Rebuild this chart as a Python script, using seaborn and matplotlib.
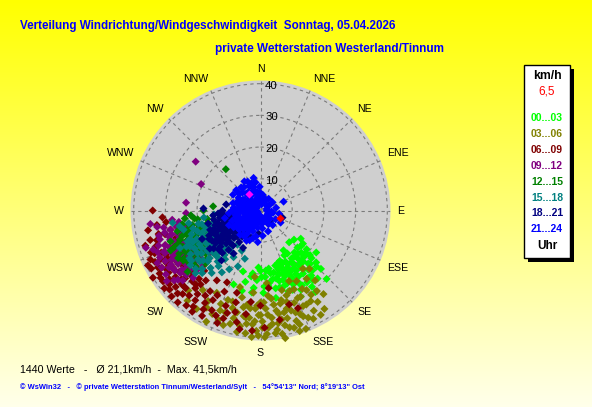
import numpy as np
import pandas as pd
import matplotlib
matplotlib.use("Agg")
import matplotlib.pyplot as plt
import seaborn as sns
from matplotlib.patches import Rectangle

# ---------------- data (direction in compass degrees, speed in km/h) ----------------
time_groups = ["00...03", "03...06", "06...09", "09...12", "12...15", "15...18", "18...21", "21...24"]
group_colors = ["#00ff00", "#808000", "#800000", "#800080", "#008000", "#008080", "#000080", "#0000ff"]

pts_00_03 = [(125, 15.5), (128, 17), (130, 19), (132, 21), (133, 24), (134, 26.5), (135, 16.5), (136, 18.5),
             (137, 20), (138, 22.5), (139, 25), (140, 28), (141, 17), (142, 19.5), (143, 21), (144, 23),
             (145, 26), (146, 29), (147, 18), (148, 20), (149, 22), (150, 24), (151, 27), (152, 16),
             (153, 19), (154, 21.5), (155, 23.5), (156, 25.5), (157, 18), (158, 20.5), (159, 22), (160, 24.5),
             (161, 27), (162, 17.5), (163, 19.5), (164, 21), (165, 23), (166, 25), (168, 20), (170, 22),
             (172, 18.5), (174, 24), (176, 21), (178, 26), (180, 19), (182, 18), (185, 24.5), (188, 21),
             (192, 23), (196, 20), (200, 24.8), (138, 13.5), (131, 14), (150, 14.5), (146, 31), (136, 30),
             (127, 22), (155, 30), (170, 28), (143, 27.5), (133, 19.5), (193, 26), (187, 20),
             (131, 17), (133, 22), (135, 25), (136, 20), (137, 23), (139, 18), (140, 21), (141, 24),
             (142, 26), (144, 18), (145, 21), (146, 24), (147, 27), (148, 16), (149, 19), (150, 21),
             (151, 23), (152, 26), (153, 28), (154, 18), (155, 20), (156, 22), (157, 24), (158, 27),
             (159, 17), (160, 19), (161, 21), (162, 23), (163, 25), (165, 18), (167, 22), (169, 25),
             (171, 20), (173, 23), (175, 19), (177, 24), (179, 21), (183, 22), (186, 26)]

pts_03_06 = [(140, 24), (142, 28), (144, 22.7), (145, 31), (146, 26), (148, 34), (150, 29), (151, 32.7),
             (152, 35.8), (153, 25), (154, 38), (155, 30), (156, 33), (157, 27), (158, 36), (159, 40),
             (160, 31), (161, 34), (162, 36.6), (163, 28), (164, 38.5), (165, 32), (166, 35), (167, 29),
             (168, 37), (169, 41), (170, 33), (171, 36), (172, 30), (173, 39), (174, 34), (175, 27),
             (176, 37), (177, 31), (178, 40), (179, 35), (180, 29), (181, 33), (182, 38), (183, 31),
             (184, 36), (185, 26), (186, 34), (187, 39), (188, 30), (189, 33.7), (190, 37), (192, 28),
             (194, 35), (196, 32), (198, 38), (200, 30), (202, 34), (205, 36), (208, 29.4), (210, 33),
             (213, 37), (216, 31), (219, 36.6), (222, 34), (150, 38), (158, 24), (165, 26), (147, 37),
             (143, 33), (175, 23), (185, 21), (195, 25), (170, 39.5), (162, 40),
             (149, 31), (152, 28), (154, 33), (156, 37), (157, 30), (159, 35), (160, 27), (161, 38),
             (163, 33), (164, 30), (166, 38), (167, 33), (168, 30), (169, 35), (171, 32), (172, 38),
             (173, 28), (174, 36), (176, 33), (177, 39), (178, 29), (179, 37), (180, 33), (181, 39.5),
             (182, 30), (183, 35), (184, 40), (186, 31), (187, 36), (188, 34), (190, 31), (191, 39),
             (193, 33), (195, 37), (197, 30), (199, 34), (201, 37), (203, 32), (206, 39), (209, 35)]

pts_06_09 = [(159, 33), (163, 31), (170, 35), (174, 24.6), (178, 37), (184, 38), (188, 33), (192, 36),
             (195, 30), (198, 34), (201, 38), (204, 28), (206, 35), (208, 32), (210, 36), (212, 30),
             (214, 38.5), (215, 37), (217, 33), (218, 28), (220, 35), (221, 31), (222, 39), (223, 26),
             (224, 34), (225, 37), (226, 30), (227, 34), (228, 32), (229, 38), (230, 27), (231, 35),
             (232, 31), (233, 36), (234, 29), (235, 33), (236, 38), (237, 30), (238, 35), (239, 27),
             (240, 33.5), (241, 37), (242, 31), (243, 29), (244, 35), (245, 33), (246, 38), (247, 30),
             (248, 36), (250, 32), (252, 28), (254, 34), (256, 31), (258, 29), (260, 36), (263, 30),
             (266, 31), (270, 34), (253, 38), (244, 39.5), (219, 30), (226, 25), (233, 25), (212, 26),
             (205, 25), (196, 27), (186, 29), (231, 39), (238, 40), (180, 30),
             (200, 32), (203, 36), (207, 30), (209, 38), (211, 34), (213, 32), (216, 35), (218, 38),
             (220, 32), (222, 29), (223, 36), (224, 31), (225, 34), (226, 39), (227, 29), (228, 36),
             (229, 33), (230, 31), (231, 37), (232, 34), (233, 32), (234, 38), (235, 30), (236, 35),
             (237, 33), (238, 37.5), (239, 31), (240, 36), (241, 34), (242, 39), (243, 33), (244, 37),
             (245, 31), (247, 34), (249, 37), (251, 35), (255, 36), (257, 33), (262, 33), (190, 38),
             (194, 33), (199, 36)]

pts_09_12 = [(225, 30), (227, 27), (228, 33), (229, 24), (230, 29), (231, 35), (232, 26), (233, 31),
             (234, 22), (235, 28), (236, 33), (237, 25), (238, 30), (239, 27), (240, 23), (241, 32),
             (242, 28), (243, 25), (244, 30), (245, 35), (246, 26), (247, 22), (248, 35), (249, 29),
             (250, 32), (251, 27), (252, 38), (253, 24), (254, 30), (255, 27), (256, 33), (258, 29),
             (260, 31), (262, 26), (264, 28), (233, 37), (240, 36), (236, 20), (243, 19), (250, 21),
             (257, 24), (230, 21), (238, 34), (245, 31), (232, 29.5), (239, 24), (247, 28.5), (307, 25.6),
             (294, 20.5), (276, 23.6), (268, 23.5), (263, 35), (255, 20),
             (228, 25), (229, 31), (230, 34), (231, 27), (232, 32), (233, 24), (234, 29), (235, 33),
             (236, 26), (237, 31), (238, 27), (239, 33), (240, 29), (241, 25), (242, 34), (243, 31),
             (244, 27), (245, 29), (246, 33), (247, 25), (248, 31), (249, 27), (250, 29), (251, 34),
             (252, 30), (253, 27), (254, 33), (255, 29), (256, 26), (257, 31), (259, 27), (261, 33),
             (236, 36), (243, 36.5), (250, 36), (231, 30), (240, 31), (247, 33)]

pts_12_15 = [(226, 24), (228, 20), (229, 27), (231, 17), (232, 22), (233, 25), (234, 19), (235, 28),
             (236, 16), (237, 21), (238, 24), (239, 18), (240, 26), (241, 20), (242, 23), (243, 17),
             (244, 21.6), (245, 25), (246, 19), (247, 22), (248, 28), (249, 20), (250, 24), (251, 17),
             (252, 26), (253, 21), (254, 23), (255, 19), (256, 27), (258, 22), (260, 25), (262, 20),
             (264, 24), (266, 22), (270, 18), (240, 30), (235, 14), (244, 13), (252, 15), (230, 30),
             (247, 29.5), (238, 28.5), (243, 27), (236, 23), (241, 16), (320, 17), (275, 15), (257, 17),
             (234, 23),
             (228, 23), (230, 19), (231, 25), (232, 27), (233, 21), (234, 17), (235, 24), (236, 19),
             (237, 26), (238, 21), (239, 23), (240, 19), (241, 27), (242, 21), (243, 24), (244, 19),
             (245, 27), (246, 23), (247, 18), (248, 25), (249, 22), (250, 27), (251, 21), (252, 19),
             (253, 25), (254, 20), (255, 24), (257, 20), (259, 23), (261, 17), (263, 21), (237, 29),
             (242, 29), (233, 28), (246, 31), (251, 30)]

pts_15_18 = [(198, 16), (202, 19), (205, 14), (208, 21), (210, 17), (212, 23), (214, 13), (216, 19),
             (218, 25), (219, 15), (220, 21), (222, 17), (223, 27), (224, 12), (225, 19), (226, 23),
             (227, 15), (228, 20), (229, 18), (230, 25), (231, 13), (232, 21), (233, 16), (234, 23),
             (235, 19), (236, 27), (237, 14), (238, 22), (239, 17), (240, 24), (241, 11), (242, 20),
             (243, 15), (244, 26), (245, 18), (246, 22), (247, 13), (248, 24), (250, 19), (252, 21),
             (254, 16), (256, 25), (258, 20), (260, 23), (262, 28), (265, 14.7), (263, 18), (232, 28),
             (226, 28.5), (217, 10), (236, 10), (251, 12), (245, 28),
             (215, 16), (217, 22), (219, 18), (221, 24), (223, 20), (224, 16), (225, 26), (226, 18),
             (227, 22), (228, 16), (229, 24), (230, 20), (231, 17), (232, 25), (233, 19), (234, 21),
             (235, 15), (236, 24), (237, 18), (238, 26), (239, 20), (240, 15), (241, 22), (242, 18),
             (243, 25), (244, 20), (246, 17), (247, 25), (248, 20), (249, 15), (251, 23), (253, 18),
             (255, 22), (257, 19), (259, 26), (228, 27.5), (234, 27), (221, 14), (240, 19), (245, 23.5)]

pts_18_21 = [(200, 9), (205, 13), (210, 6), (212, 16), (215, 10), (218, 14), (220, 8), (222, 18),
             (224, 12), (225, 6), (226, 15), (227, 10), (228, 17), (229, 8), (230, 13), (231, 19),
             (232, 11), (233, 15), (234, 7), (235, 12), (236, 17), (237, 9), (238, 14), (239, 11),
             (240, 16), (241, 6), (242, 13), (243, 10), (244, 18), (245, 8), (246, 14), (247, 11),
             (248, 16), (249, 5), (250, 12), (251, 9), (252, 15), (254, 11), (256, 17), (258, 8),
             (260, 13), (262, 10), (264, 15), (266, 13.4), (268, 9), (270, 12), (272, 18), (275, 7),
             (280, 11), (108, 7.3), (135, 4.5), (185, 7.3), (341, 7.7), (290, 6), (310, 5), (233, 20),
             (244, 20.5), (238, 4), (226, 3.5), (218, 20),
             (214, 12), (216, 8), (219, 16), (221, 10), (223, 14), (226, 12), (228, 9), (229, 14),
             (231, 16), (232, 7), (233, 10), (234, 13), (235, 16), (236, 9), (237, 12), (238, 18),
             (239, 8), (240, 13), (241, 10), (242, 16), (243, 7), (244, 12), (245, 15), (246, 9),
             (247, 13), (248, 11), (249, 17), (250, 7), (251, 14), (252, 11), (253, 9), (254, 14),
             (255, 12), (257, 10), (259, 15), (261, 11), (263, 8), (265, 12), (227, 18), (222, 11),
             (230, 10), (236, 14.5), (241, 18.5), (246, 16.5), (251, 12.5), (248, 8.5), (243, 13.5),
             (225, 9.5), (234, 17.5)]

pts_21_24 = [(331, 10.5), (343, 7.6), (350, 9), (0, 5.5), (20, 4), (56, 4.6), (69, 7.8),
             (80, 5), (95, 3.5), (100, 6), (121, 7.4), (130, 4), (150, 5), (174, 5.7), (190, 8.3),
             (200, 4.5), (210, 7), (220, 3), (230, 9), (240, 6), (250, 3.5), (255, 8), (260, 5),
             (265, 10), (270, 4), (275, 7), (280, 2.5), (285, 9), (290, 5.5), (295, 3), (300, 8),
             (305, 6), (310, 10), (315, 4), (320, 7), (325, 2), (330, 5.5), (335, 8.5), (340, 3.5),
             (345, 6), (352, 4.5), (355, 2.5), (5, 3), (40, 2.5),
             (60, 3), (75, 2), (110, 2.5), (140, 2.5), (160, 3), (180, 2), (200, 2), (225, 6),
             (235, 4), (245, 11), (258, 11.5), (268, 1.5), (285, 6.5), (300, 1.5), (310, 3), (320, 9.5),
             (348, 10.5), (200, 10), (215, 9.5), (240, 9), (250, 9.5), (260, 8), (270, 9),
             (230, 6), (235, 8), (215, 7), (205, 6), (195, 9), (185, 10), (245, 6.5), (255, 5),
             (265, 6.5), (275, 5.5), (285, 4), (295, 7), (205, 10.5), (220, 10),
             (180, 4), (190, 5.5), (200, 7), (210, 8.5), (215, 3.5), (220, 5), (225, 7.5), (228, 9),
             (232, 2.5), (236, 4.5), (240, 7.5), (244, 3), (248, 5), (252, 7), (256, 2), (262, 3.5),
             (266, 7.5), (272, 2), (278, 3.5), (282, 6), (288, 8), (292, 2), (298, 4.5), (302, 6.5),
             (308, 8.5), (312, 1.5), (318, 5), (322, 6), (328, 7), (332, 3.5), (338, 6.5), (342, 9),
             (350, 6), (358, 7.5), (8, 5), (25, 3), (35, 4.5),
             (90, 2), (120, 3), (150, 3.5), (170, 4), (195, 3), (205, 5), (212, 9.5), (222, 8),
             (238, 10), (242, 1), (190, 1.5), (160, 7), (175, 8), (140, 6), (228, 4), (252, 4),
             (276, 8.5), (300, 10), (315, 8), (325, 9), (336, 10), (345, 4), (10, 2), (120, 5.5),
             (100, 4), (232, 7.5), (248, 8), (218, 6.5), (208, 3)]

group_points = [pts_00_03, pts_03_06, pts_06_09, pts_09_12, pts_12_15, pts_15_18, pts_18_21, pts_21_24]

current_dir, current_speed = 112, 6.5          # latest value (red)
highlight_dir, highlight_speed = 325, 6.2      # magenta mark

direction_labels = ["N", "NNE", "NE", "ENE", "E", "ESE", "SE", "SSE",
                    "S", "SSW", "SW", "WSW", "W", "WNW", "NW", "NNW"]
ring_values = [10, 20, 30, 40]

title_text = "Verteilung Windrichtung/Windgeschwindigkeit  Sonntag, 05.04.2026"
subtitle_text = "private Wetterstation Westerland/Tinnum"
stats_text = "1440 Werte   -   \u00d8 21,1km/h  -  Max. 41,5km/h"
footer_text = "\u00a9 WsWin32   -   \u00a9 private Wetterstation Tinnum/Westerland/Sylt   -   54\u00b054'13\" Nord; 8\u00b019'13\" Ost"

# ---------------- figure ----------------
W, H = 592, 407
plt.rcParams["font.family"] = ["Liberation Sans", "DejaVu Sans"]
fig = plt.figure(figsize=(W / 100, H / 100), dpi=100)

# background gradient
bg = fig.add_axes([0, 0, 1, 1], zorder=-10)
grad = np.linspace(0.0, 0.92, 256).reshape(-1, 1)
img = np.zeros((256, 1, 3))
img[..., 0] = 1.0
img[..., 1] = 1.0
img[..., 2] = grad
bg.imshow(img, aspect="auto", extent=[0, 1, 0, 1], origin="upper")
bg.set_axis_off()

# polar axes
cx, cy, R = 260.5, 210.5, 130
ax = fig.add_axes([(cx - R) / W, (H - cy - R) / H, 2 * R / W, 2 * R / H], projection="polar")
ax.set_theta_zero_location("N")
ax.set_theta_direction(-1)
ax.set_facecolor("#cfcfcf")
rmax = 41.0
ax.set_ylim(0, rmax)
ax.set_yticks(ring_values)
ax.set_yticklabels([])
ax.set_xticks(np.deg2rad(np.arange(0, 360, 22.5)))
ax.set_xticklabels([])
ax.grid(True, color="#7a7a7a", linestyle=(0, (3, 3)), linewidth=0.8)
ax.spines["polar"].set_visible(False)
ax.tick_params(length=0)

rows = []
for grp, pts in zip(time_groups, group_points):
    for d, s in pts:
        rows.append({"theta": np.deg2rad(d), "speed": s, "group": grp})
df = pd.DataFrame(rows)
palette = dict(zip(time_groups, group_colors))
sns.scatterplot(data=df, x="theta", y="speed", hue="group", palette=palette, marker="D",
                s=17, linewidth=0, legend=False, ax=ax, clip_on=False, zorder=3)
ax.scatter([np.deg2rad(highlight_dir)], [highlight_speed], marker="D", s=17, color="#ff00ff", linewidth=0, zorder=4)
ax.scatter([np.deg2rad(current_dir)], [current_speed], marker="D", s=17, color="#ff0000", linewidth=0, zorder=4)
ax.set_xlabel("")
ax.set_ylabel("")

# ring labels
for rv in ring_values:
    ax.annotate(str(rv), xy=(0, rv), xytext=(11, -2), textcoords="offset pixels",
                ha="center", va="center", fontsize=8.2, color="black", zorder=5)

# direction labels
r_lab = 137 / (R / rmax)
for i, lab in enumerate(direction_labels):
    ang = np.deg2rad(i * 22.5)
    sx, cz = np.sin(ang), np.cos(ang)
    ha = "left" if sx > 0.01 else ("right" if sx < -0.01 else "center")
    va = "bottom" if cz > 0.01 else ("top" if cz < -0.01 else "center")
    ax.text(ang, r_lab, lab, ha=ha, va=va, fontsize=7.6, color="black", clip_on=False)

# ---------------- texts ----------------
renderer = fig.canvas.get_renderer()


def place(x, y, s, target_w=None, **kw):
    t = fig.text(x / W, 1 - y / H, s, **kw)
    if target_w:
        w = t.get_window_extent(renderer).width
        t.set_fontsize(t.get_fontsize() * target_w / w)
    return t


place(20, 26, title_text, 376, ha="left", va="center", fontsize=9, fontweight="bold", color="#0000ff")
place(215, 49, subtitle_text, 228, ha="left", va="center", fontsize=9, fontweight="bold", color="#0000ff")
place(20, 370, stats_text, 217, ha="left", va="center", fontsize=8, color="black")
place(20, 387, footer_text, 350, ha="left", va="center", fontsize=6, fontweight="bold", color="#0000ff")

# legend box
def px_rect(x0, y0, x1, y1, **kw):
    r = Rectangle(((x0) / W, 1 - y1 / H), (x1 - x0) / W, (y1 - y0) / H, transform=fig.transFigure, **kw)
    fig.patches.append(r)

px_rect(528, 69, 574, 262, facecolor="black", edgecolor="none", zorder=1)
px_rect(524, 65, 570, 258, facecolor="white", edgecolor="black", linewidth=1.0, zorder=2)

lx = 547
place(lx, 76, "km/h", 29, ha="center", va="center", fontsize=8, fontweight="bold", color="black", zorder=3)
place(lx, 91, f"{current_speed:.1f}".replace(".", ","), None, ha="center", va="center", fontsize=8.5,
      color="#ff0000", zorder=3)
ys = [118, 134, 150, 166, 182, 198, 213, 229]
for grp, col, yy in zip(time_groups, group_colors, ys):
    place(lx, yy, grp, 32, ha="center", va="center", fontsize=8, fontweight="bold", color=col, zorder=3)
place(lx, 246, "Uhr", None, ha="center", va="center", fontsize=8.5, fontweight="bold", color="black", zorder=3)

fig.savefig("out.png", dpi=100)
